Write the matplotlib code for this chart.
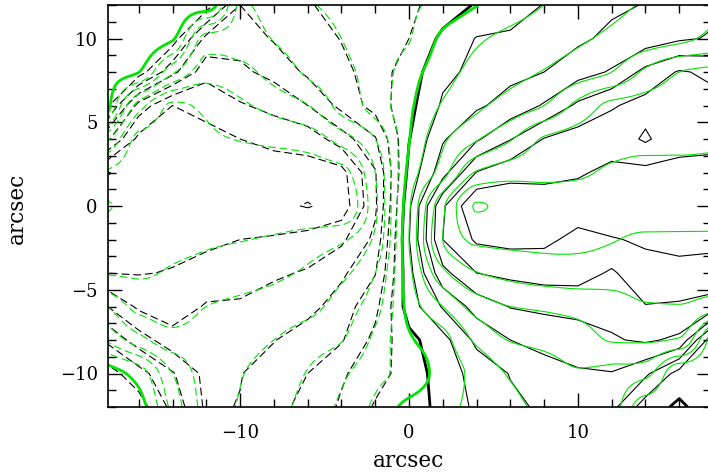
import numpy as np
import matplotlib
matplotlib.use("Agg")
import matplotlib.pyplot as plt
from matplotlib.ticker import MultipleLocator

# grid positions (arcsec)
x_arcsec = [-18, -16, -14, -12, -10, -8, -6, -4, -2, 0, 2, 4, 6, 8, 10, 12, 14, 16, 18]
y_arcsec = [12, 10, 8, 6, 4, 2, 0, -2, -4, -6, -8, -10, -12]

# model velocity field (green), in units of the contour step, rows from y=+12 down to y=-12
model_rows = [
    [0.9, 0.9, 0.9, 0.9, -3.1, -2.57, -2.1, -1.76, -1.46, -1.16, -0.7, -0.03, 0.5, 1.0, 1.35, 1.75, 2.1, 2.45, 2.8],
    [0.9, 0.6, 0.1, -3.4, -3.5, -2.95, -2.5, -2.0, -1.5, -1.05, 0.2, 0.85, 1.25, 1.55, 1.85, 2.2, 2.5, 2.8, 3.2],
    [0.5, 0.02, -2.8, -4.5, -4.3, -3.6, -2.85, -2.26, -1.6, -0.45, 0.6, 1.3, 1.7, 2.05, 2.5, 3.0, 4.2, 5.0, 5.2],
    [0.9, -4.5, -6.1, -5.85, -5.2, -4.65, -4.05, -2.61, -1.63, -0.2, 1.1, 1.8, 2.4, 3.0, 4.3, 5.2, 5.35, 5.4, 5.5],
    [-3.6, -6.2, -6.3, -6.15, -5.95, -5.75, -5.55, -4.55, -3.0, -0.05, 1.8, 2.9, 3.9, 5.1, 5.4, 5.6, 5.7, 5.7, 5.8],
    [-6.1, -6.5, -6.6, -6.6, -6.6, -6.6, -6.5, -6.3, -4.0, 0.29, 2.53, 5.1, 5.6, 5.7, 5.85, 6.15, 6.3, 6.3, 6.3],
    [-7.05, -6.85, -6.8, -6.8, -6.85, -6.9, -6.95, -6.85, -4.25, 0.82, 4.8, 7.05, 6.8, 6.6, 6.5, 6.5, 6.6, 6.5, 6.5],
    [-6.5, -6.45, -6.3, -6.15, -6.05, -5.85, -5.5, -5.15, -3.8, 1.0, 5.0, 6.2, 6.25, 6.25, 6.2, 6.05, 5.85, 5.85, 5.85],
    [-6.05, -6.1, -5.9, -5.7, -5.45, -5.2, -4.85, -4.25, -3.0, 0.7, 3.75, 4.95, 5.3, 5.5, 5.6, 5.6, 5.6, 5.55, 5.6],
    [-3.9, -5.3, -5.5, -5.0, -4.8, -4.6, -4.3, -3.55, -2.4, 0.35, 2.0, 3.45, 4.0, 4.15, 4.3, 4.45, 4.9, 4.95, 4.5],
    [-2.0, -3.6, -4.6, -4.6, -4.4, -4.0, -3.5, -3.05, -1.75, -0.15, 0.65, 2.2, 3.05, 3.3, 3.6, 4.05, 4.1, 3.9, 0.3],
    [0.5, -0.4, -3.0, -4.3, -4.05, -3.5, -2.95, -2.2, -1.3, -0.6, 0.4, 1.3, 2.1, 2.5, 2.9, 2.7, 2.3, 0.3, 0.3],
    [0.9, 0.4, -2.3, -4.2, -3.95, -3.3, -2.7, -1.8, -0.8, 0.3, 0.75, 1.25, 1.75, 2.2, 2.45, 2.35, 0.3, 0.3, 0.3],
]

# observed velocity field (black), same grid
observed_rows = [
    [-0.5, -0.5, -0.5, -0.5, -3.0, -2.6, -2.05, -1.8, -1.4, -1.2, -0.6, 0.1, 0.4, 1.05, 1.3, 1.8, 2.05, 2.5, 2.75],
    [-0.5, -0.5, -0.5, -3.3, -3.6, -2.9, -2.55, -1.95, -1.55, -1.0, 0.25, 1.05, 1.2, 1.6, 1.8, 2.25, 2.45, 2.85, 3.1],
    [-0.5, -0.5, -2.7, -4.6, -4.2, -3.7, -2.8, -2.3, -1.5, -0.5, 0.75, 1.25, 1.75, 2.0, 2.6, 3.1, 4.3, 5.1, 4.8],
    [-0.5, -4.4, -6.0, -5.9, -5.1, -4.7, -4.0, -2.7, -1.6, -0.3, 1.15, 1.85, 2.35, 3.1, 4.2, 4.9, 5.35, 5.35, 5.3],
    [-3.6, -6.3, -6.25, -6.1, -6.0, -5.7, -5.6, -4.5, -3.1, -0.05, 1.9, 2.85, 3.95, 5.05, 5.45, 5.6, 4.85, 5.7, 5.75],
    [-7.1, -6.45, -6.65, -6.55, -6.65, -6.55, -6.4, -6.35, -4.1, 0.3, 2.6, 5.05, 5.65, 5.7, 5.9, 6.2, 6.3, 6.25, 6.3],
    [-6.9, -6.8, -6.85, -6.75, -6.9, -6.7, -7.08, -6.6, -4.2, 0.8, 4.85, 6.95, 6.75, 6.55, 6.45, 6.55, 6.5, 6.55, 6.45],
    [-6.45, -6.5, -6.25, -6.2, -6.0, -5.9, -5.6, -5.2, -3.75, 0.95, 5.0, 6.15, 6.3, 6.2, 5.75, 5.95, 6.1, 6.2, 6.2],
    [-6.0, -6.05, -5.95, -5.65, -5.5, -5.15, -4.9, -4.2, -3.05, 0.65, 3.7, 5.0, 5.25, 5.45, 5.5, 4.85, 5.75, 5.8, 5.7],
    [-3.9, -5.2, -5.55, -4.9, -4.85, -4.55, -4.35, -3.5, -2.3, 0.5, 2.1, 3.4, 4.05, 4.2, 4.2, 4.35, 4.95, 4.85, 4.55],
    [-2.1, -3.5, -4.6, -4.7, -4.35, -4.05, -3.45, -3.1, -1.7, -0.3, 0.65, 2.25, 3.0, 3.35, 3.7, 3.9, 4.15, 3.8, 0.3],
    [-0.5, -1.6, -2.9, -4.3, -4.05, -3.45, -3.0, -2.15, -1.35, -0.6, 0.5, 1.35, 2.05, 2.55, 2.85, 2.95, 2.2, 0.6, 0.3],
    [-0.5, -0.5, -2.3, -4.2, -3.95, -3.25, -2.75, -1.85, -0.9, -0.5, 0.3, 1.2, 1.8, 2.15, 2.5, 2.3, 0.5, -0.2, 0.6],
]

neg_levels = [-7, -6, -5, -4, -3, -2, -1]
zero_level = [0]
pos_levels = [1, 2, 3, 4, 5, 6, 7]

x_ticks = [-10, 0, 10]
y_ticks = [-10, -5, 0, 5, 10]
axis_label = "arcsec"


def pchip_last_axis(xk, Y, xn):
    xk = np.asarray(xk, float)
    h = np.diff(xk)
    d = np.diff(Y, axis=-1) / h
    m = np.zeros_like(Y)
    d0, d1 = d[..., :-1], d[..., 1:]
    h0, h1 = h[:-1], h[1:]
    w1 = 2 * h1 + h0
    w2 = h1 + 2 * h0
    with np.errstate(divide="ignore", invalid="ignore"):
        mi = (w1 + w2) / (w1 / d0 + w2 / d1)
    mi = np.where(d0 * d1 > 0, mi, 0.0)
    m[..., 1:-1] = mi
    m[..., 0] = d[..., 0]
    m[..., -1] = d[..., -1]
    idx = np.clip(np.searchsorted(xk, xn) - 1, 0, len(xk) - 2)
    t = (xn - xk[idx]) / h[idx]
    hh = h[idx]
    y0, y1 = Y[..., idx], Y[..., idx + 1]
    m0, m1 = m[..., idx], m[..., idx + 1]
    h00 = 2 * t**3 - 3 * t**2 + 1
    h10 = t**3 - 2 * t**2 + t
    h01 = -2 * t**3 + 3 * t**2
    h11 = t**3 - t**2
    return h00 * y0 + h10 * hh * m0 + h01 * y1 + h11 * hh * m1


xg = np.array(x_arcsec, float)
yg = np.array(y_arcsec, float)[::-1]
Zmod = np.array(model_rows, float)[::-1]
Zobs = np.array(observed_rows, float)[::-1]

# smooth resampling of the model for drawing
xf = np.linspace(xg[0], xg[-1], 241)
yf = np.linspace(yg[0], yg[-1], 161)
Zm_x = pchip_last_axis(xg, Zmod, xf)
Zm_f = pchip_last_axis(yg, Zm_x.T, yf).T

green = "#00e400"
dash = [(0, (7, 3.5))]
fam = "DejaVu Serif"

fig = plt.figure(figsize=(7.08, 4.75), dpi=100)
ax = fig.add_axes([107.5 / 708, 68 / 475, 603 / 708, 402 / 475])

# observed (black)
ax.contour(xg, yg, Zobs, levels=neg_levels, colors="k", linewidths=0.8, linestyles=dash)
ax.contour(xg, yg, Zobs, levels=pos_levels, colors="k", linewidths=0.8, linestyles="solid")
ax.contour(xg, yg, Zobs, levels=zero_level, colors="k", linewidths=2.0, linestyles="solid")
# model (green)
ax.contour(xf, yf, Zm_f, levels=neg_levels, colors=green, linewidths=0.8, linestyles=dash)
ax.contour(xf, yf, Zm_f, levels=pos_levels, colors=green, linewidths=0.8, linestyles="solid")
ax.contour(xf, yf, Zm_f, levels=zero_level, colors=green, linewidths=2.0, linestyles="solid")

ax.set_xlim(-17.85, 17.85)
ax.set_ylim(-12, 12)
ax.set_xticks(x_ticks)
ax.set_yticks(y_ticks)
ax.xaxis.set_minor_locator(MultipleLocator(2))
ax.yaxis.set_minor_locator(MultipleLocator(1))
ax.tick_params(which="both", direction="in", top=True, right=True, width=1.0)
ax.tick_params(which="major", length=10)
ax.tick_params(which="minor", length=5.5)
ax.tick_params(axis="y", which="major", pad=7)
ax.tick_params(axis="x", which="major", pad=12)
for lab in ax.get_xticklabels() + ax.get_yticklabels():
    lab.set_fontfamily(fam)
    lab.set_fontsize(13)
for sp in ax.spines.values():
    sp.set_linewidth(1.2)

fig.text(409 / 708, 1 - 461 / 475, axis_label, ha="center", va="center",
         fontsize=15.5, family=fam)
fig.text(17 / 708, 1 - 208 / 475, axis_label, ha="center", va="center",
         rotation=90, fontsize=15.5, family=fam)

fig.savefig("out.png", dpi=100)
